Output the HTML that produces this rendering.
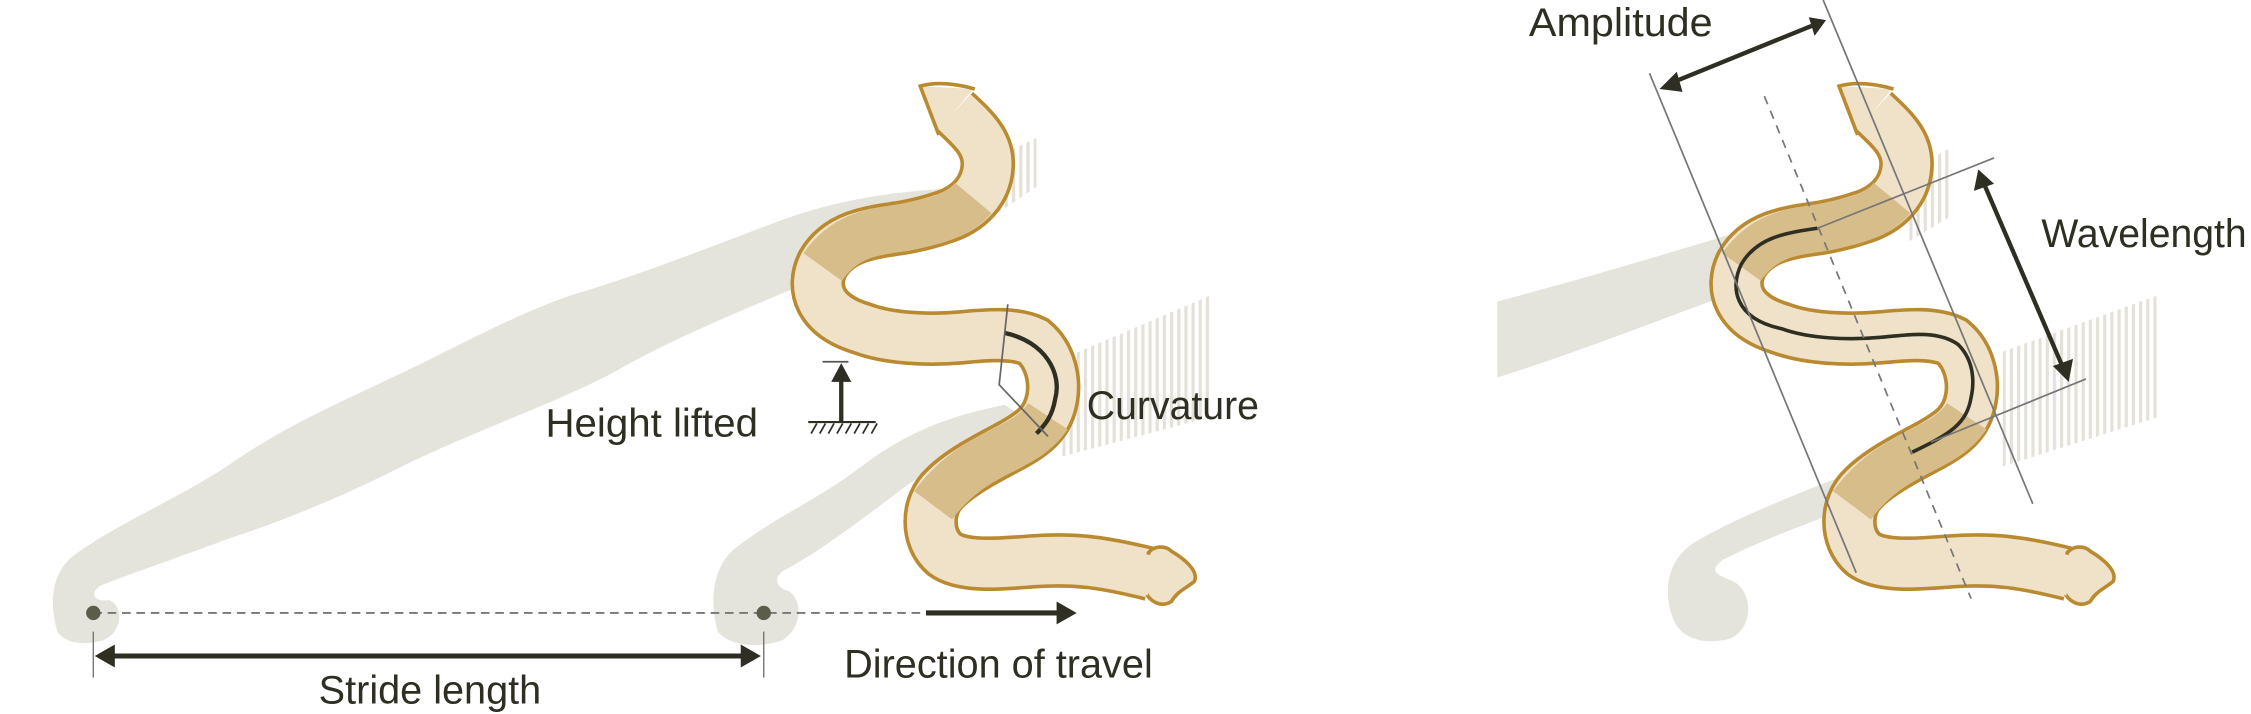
<!DOCTYPE html>
<html><head><meta charset="utf-8"><style>
html,body{margin:0;padding:0;background:#fff;}
svg{display:block;}
text{font-family:"Liberation Sans Narrow","Liberation Sans",sans-serif;fill:#2e2e22;}
</style></head><body>
<svg width="2251" height="714" viewBox="0 0 1568 497.4" preserveAspectRatio="none" xmlns="http://www.w3.org/2000/svg">
<defs>
<pattern id="hatch" width="5" height="10" patternUnits="userSpaceOnUse">
<rect x="0" y="0" width="2.2" height="10" fill="#e3e1d8"/>
</pattern>
<path id="body" d="M1305,78 C1318,90 1329,100 1328,116 C1327,132 1316,146 1295,152 C1280,157 1266,159 1266,159 C1245,162 1224,165 1213,184 C1205,200 1210,220 1241,229 C1260,236 1288,237 1310,235 C1330,233 1348,232 1360,238 C1372,248 1375,265 1373,277 C1370,295 1359,302 1345,310 C1330,318 1310,328 1298,340 C1285,352 1285,375 1298,386 C1310,395 1335,393 1360,391 C1390,389 1410,392 1442,400"/>
<path id="patch1" d="M1318,138 C1308,150 1290,155 1266,159 C1245,162 1228,165 1213,186"/>
<path id="patch2" d="M1370,290 C1362,302 1350,308 1338,314 C1320,323 1305,332 1290,352"/>
</defs>

<!-- left shadows -->
<path d="M40,440 C34,420 36,400 50,388 C80,365 130,345 165,320 C210,290 250,275 300,250 C340,230 370,215 400,205 C450,190 500,170 540,155 C580,140 620,132 690,130 L690,152 C640,160 600,180 560,198 C520,215 470,235 430,258 C390,280 330,300 280,325 C240,345 200,362 160,375 C120,390 90,400 70,408 C62,413 66,420 76,418 C86,422 86,440 72,446 C58,450 45,448 40,440 Z" fill="#e5e4dc"/>
<path d="M500,440 C494,420 496,395 512,382 C540,360 570,348 600,325 C630,302 660,290 700,282 L720,296 C690,306 660,318 632,338 C600,362 570,385 545,398 C538,404 542,410 550,412 C560,420 558,438 545,446 C528,452 508,450 500,440 Z" fill="#e5e4dc"/>
<polygon points="688,112 722,96 722,130 690,152" fill="url(#hatch)"/>
<polygon points="740,250 845,205 845,290 740,318" fill="url(#hatch)"/>

<!-- right shadows -->
<path d="M1043,210 C1100,195 1150,180 1210,162 L1205,205 C1150,225 1100,245 1043,263 Z" fill="#e5e4dc"/>
<path d="M1165,430 C1158,410 1162,390 1180,378 C1210,360 1250,345 1300,325 L1300,350 C1265,362 1230,375 1200,390 C1190,398 1196,400 1205,404 C1222,410 1222,438 1205,445 C1185,450 1170,444 1165,430 Z" fill="#e5e4dc"/>
<polygon points="1330,120 1360,102 1360,150 1330,168" fill="url(#hatch)"/>
<polygon points="1395,245 1505,205 1505,290 1395,325" fill="url(#hatch)"/>

<!-- snakes -->
<g id="snake">
<use href="#body" fill="none" stroke="#b98a30" stroke-width="38" stroke-linecap="butt"/>
<use href="#body" fill="none" stroke="#efe2c9" stroke-width="33" stroke-linecap="butt"/>
<polygon points="1281,60 1318,62 1292,93" fill="#efe2c9"/>
<path d="M1319,62 C1305,58 1292,57 1281,60 L1294,94" fill="none" stroke="#b98a30" stroke-width="2.5"/>
<use href="#patch1" fill="none" stroke="#d7bd8a" stroke-width="33" stroke-linecap="butt"/>
<use href="#patch2" fill="none" stroke="#d7bd8a" stroke-width="33" stroke-linecap="butt"/>
<path d="M1440,385 C1444,380 1452,380 1456,384 C1466,390 1475,398 1472,405 C1466,410 1460,412 1456,419 C1448,424 1440,418 1438,412 Z" fill="#efe2c9" stroke="#b98a30" stroke-width="2.5"/>
<rect x="1430" y="386" width="12" height="28" fill="#efe2c9" transform="rotate(10 1436 400)"/>
</g>
<use href="#snake" transform="translate(-640,0)"/>

<!-- left annotations -->
<path d="M700,232 C728,238 740,260 735,278 C733,290 728,296 722,302" fill="none" stroke="#2e2e22" stroke-width="3"/>
<polyline points="702,212 696,268 730,304" fill="none" stroke="#666" stroke-width="1.2"/>
<line x1="573" y1="252" x2="591" y2="252" stroke="#555" stroke-width="1.2"/>
<line x1="586" y1="294" x2="586" y2="264" stroke="#2e2e22" stroke-width="3"/>
<polygon points="579,266 593,266 586,253" fill="#2e2e22"/>
<line x1="563" y1="294" x2="610" y2="294" stroke="#2e2e22" stroke-width="1.5"/>
<path d="M565,302 L569,295 M571,302 L575,295 M577,302 L581,295 M583,302 L587,295 M589,302 L593,295 M595,302 L599,295 M601,302 L605,295 M607,302 L611,295" stroke="#2e2e22" stroke-width="1.2"/>
<text x="380" y="304" font-size="28" textLength="148" lengthAdjust="spacingAndGlyphs">Height lifted</text>
<text x="757" y="292" font-size="28" textLength="120" lengthAdjust="spacingAndGlyphs">Curvature</text>

<line x1="65" y1="427" x2="645" y2="427" stroke="#777" stroke-width="1.3" stroke-dasharray="6,4"/>
<line x1="645" y1="427" x2="738" y2="427" stroke="#2e2e22" stroke-width="3.5"/>
<polygon points="736,419 750,427 736,435" fill="#2e2e22"/>
<circle cx="65" cy="427" r="5" fill="#5c5c4a"/>
<circle cx="532" cy="427" r="5" fill="#5c5c4a"/>
<line x1="65" y1="440" x2="65" y2="472" stroke="#777" stroke-width="1"/>
<line x1="532" y1="440" x2="532" y2="472" stroke="#777" stroke-width="1"/>
<line x1="75" y1="457" x2="522" y2="457" stroke="#2e2e22" stroke-width="3.5"/>
<polygon points="66,457 80,449 80,465" fill="#2e2e22"/>
<polygon points="530,457 516,449 516,465" fill="#2e2e22"/>
<text x="222" y="490" font-size="28" textLength="155" lengthAdjust="spacingAndGlyphs">Stride length</text>
<text x="588" y="472" font-size="28" textLength="215" lengthAdjust="spacingAndGlyphs">Direction of travel</text>

<!-- right annotations -->
<path d="M1266,159 C1245,162 1224,165 1213,184 C1205,200 1208,222 1241,229 C1260,236 1288,237 1310,235 C1330,233 1350,230 1364,240 C1376,252 1375,268 1373,277 C1370,295 1359,302 1332,315" fill="none" stroke="#2e2e22" stroke-width="2.5"/>
<line x1="1149" y1="51" x2="1293" y2="399" stroke="#777" stroke-width="1.2"/>
<line x1="1270" y1="0" x2="1416" y2="351" stroke="#777" stroke-width="1.2"/>
<line x1="1229" y1="67" x2="1373" y2="417" stroke="#777" stroke-width="1.2" stroke-dasharray="6,5"/>
<line x1="1266" y1="159" x2="1389" y2="110" stroke="#777" stroke-width="1.2"/>
<line x1="1345" y1="308" x2="1453" y2="264" stroke="#777" stroke-width="1.2"/>
<line x1="1166" y1="57" x2="1262" y2="18" stroke="#2e2e22" stroke-width="3"/>
<polygon points="1156,62 1168,50 1172,64" fill="#2e2e22"/>
<polygon points="1272,14 1260,12 1264,25" fill="#2e2e22"/>
<line x1="1382" y1="128" x2="1437" y2="256" stroke="#2e2e22" stroke-width="3"/>
<polygon points="1378,118 1375,133 1389,128" fill="#2e2e22"/>
<polygon points="1441,266 1430,255 1444,250" fill="#2e2e22"/>
<text x="1065" y="25" font-size="28" textLength="128" lengthAdjust="spacingAndGlyphs">Amplitude</text>
<text x="1422" y="172" font-size="28" textLength="143" lengthAdjust="spacingAndGlyphs">Wavelength</text>
</svg>
</body></html>
